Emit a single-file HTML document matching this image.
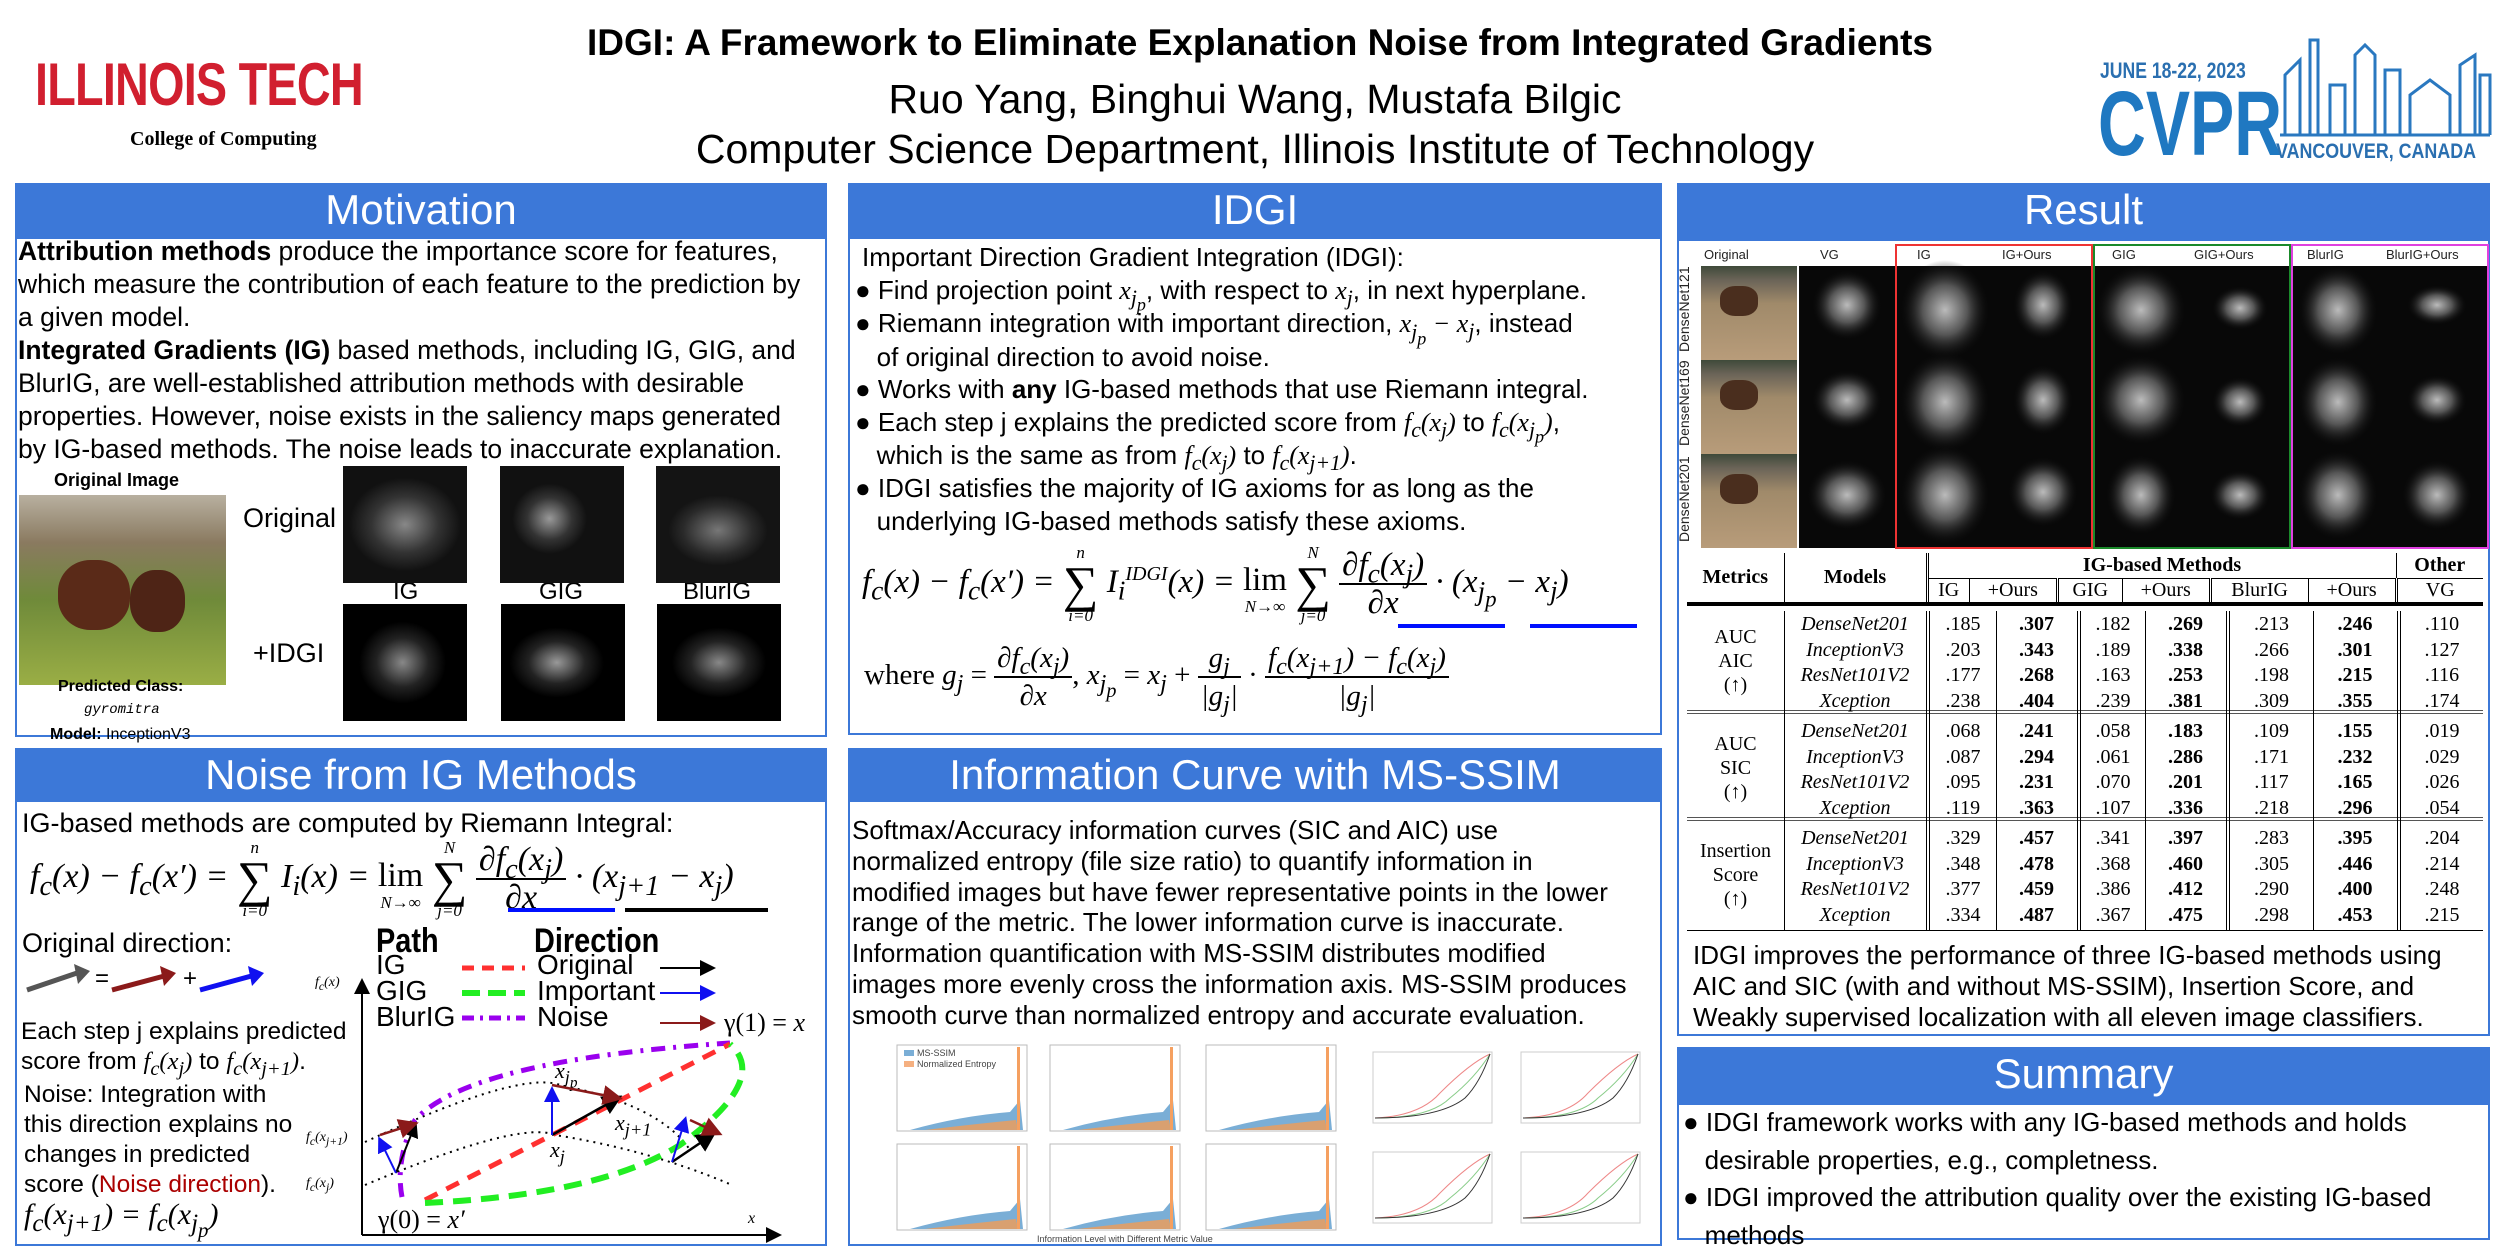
<!DOCTYPE html>
<html><head><meta charset="utf-8">
<style>
*{margin:0;padding:0;box-sizing:border-box}
body{width:2500px;height:1250px;background:#fff;position:relative;overflow:hidden;font-family:"Liberation Sans",sans-serif;color:#000}
.a{position:absolute;white-space:nowrap}
.hd{position:absolute;background:#3c78d8;color:#fff;font-size:42px;text-align:center;line-height:54px}
.bd{position:absolute;border:2px solid #3c78d8;background:#fff}
.m{font-family:"Liberation Serif",serif;font-style:italic}
sub,sup{line-height:0}
.sal{position:absolute;background:#050505}
.img{position:absolute}
.sum{display:inline-block;vertical-align:middle;text-align:center;line-height:1}
.sum .l{display:block;font-size:17px;line-height:19px}
.sum .g{display:block;font-size:50px;font-style:normal;line-height:44px}
.lim{display:inline-block;vertical-align:middle;text-align:center;line-height:1;position:relative;top:6px}
.lim .t1{display:block;font-style:normal}
.lim .l{display:block;font-size:17px;line-height:19px}
.fr{display:inline-block;vertical-align:middle;text-align:center;line-height:36px}
.fr>span{display:block;padding:0 3px}
.fr>span:first-child{border-bottom:2px solid #000}
table{border-collapse:collapse;font-family:"Liberation Serif",serif;font-size:20px}
td,th{text-align:center;padding:0 2px;height:25px}
</style></head><body>

<!-- header -->
<div class="a" style="left:35px;top:50px;font-size:60px;font-weight:bold;color:#d11f2f;transform:scaleX(0.78);transform-origin:left top;letter-spacing:-1px">ILLINOIS TECH</div>
<div class="a" style="left:130px;top:128px;font-family:'Liberation Serif',serif;font-weight:bold;font-size:20px">College of Computing</div>
<div class="a" style="left:0;width:2520px;top:22px;text-align:center;font-size:37px;font-weight:bold">IDGI: A Framework to Eliminate Explanation Noise from Integrated Gradients</div>
<div class="a" style="left:0;width:2510px;top:76px;text-align:center;font-size:41px">Ruo Yang, Binghui Wang, Mustafa Bilgic</div>
<div class="a" style="left:0;width:2510px;top:126px;text-align:center;font-size:41px">Computer Science Department, Illinois Institute of Technology</div>
<div class="a" style="left:2100px;top:58px;font-size:22px;font-weight:bold;color:#2a6fb0;transform:scaleX(0.8);transform-origin:left top">JUNE 18-22, 2023</div>
<div class="a" style="left:2098px;top:78px;font-size:92px;font-weight:bold;color:#1f78c1;transform:scaleX(0.72);transform-origin:left top;line-height:92px">CVPR</div>
<div class="a" style="left:2276px;top:140px;font-size:21px;font-weight:bold;color:#2a6fb0;transform:scaleX(0.85);transform-origin:left top">VANCOUVER, CANADA</div>

<!-- panels -->
<div class="hd" style="left:15px;top:183px;width:812px;height:54px">Motivation</div>
<div class="bd" style="left:15px;top:237px;width:812px;height:500px"></div>
<div class="hd" style="left:15px;top:748px;width:812px;height:52px">Noise from IG Methods</div>
<div class="bd" style="left:15px;top:800px;width:812px;height:446px"></div>
<div class="hd" style="left:848px;top:183px;width:814px;height:54px">IDGI</div>
<div class="bd" style="left:848px;top:237px;width:814px;height:498px"></div>
<div class="hd" style="left:848px;top:748px;width:814px;height:52px">Information Curve with MS-SSIM</div>
<div class="bd" style="left:848px;top:800px;width:814px;height:446px"></div>
<div class="hd" style="left:1677px;top:183px;width:813px;height:56px">Result</div>
<div class="bd" style="left:1677px;top:239px;width:813px;height:797px"></div>
<div class="hd" style="left:1677px;top:1047px;width:813px;height:56px">Summary</div>
<div class="bd" style="left:1677px;top:1103px;width:813px;height:137px"></div>

<!-- Motivation -->
<div class="a" style="left:18px;top:235px;font-size:26.5px;line-height:33px">
<b>Attribution methods</b> produce the importance score for features,<br>which measure the contribution of each feature to the prediction by<br>a given model.<br>
<b>Integrated Gradients (IG)</b> based methods, including IG, GIG, and<br>BlurIG, are well-established attribution methods with desirable<br>properties. However, noise exists in the saliency maps generated<br>by IG-based methods. The noise leads to inaccurate explanation.</div>
<div class="a" style="left:54px;top:470px;font-size:18px;font-weight:bold">Original Image</div>
<div class="img" style="left:19px;top:495px;width:207px;height:190px;background:linear-gradient(180deg,#b8b0a0 0%,#8a7a60 25%,#6f8a3a 55%,#9aae45 100%)"></div>
<div class="img" style="left:58px;top:560px;width:72px;height:70px;border-radius:45%;background:#5a2a18"></div>
<div class="img" style="left:130px;top:570px;width:55px;height:62px;border-radius:45%;background:#4e2416"></div>
<div class="a" style="left:58px;top:678px;font-size:16px;font-weight:bold">Predicted Class:</div>
<div class="a" style="left:84px;top:702px;font-size:14px;font-family:'Liberation Mono',monospace;font-style:italic">gyromitra</div>
<div class="a" style="left:50px;top:726px;font-size:16px"><b>Model:</b> InceptionV3</div>
<div class="a" style="left:243px;top:503px;font-size:27px">Original</div>
<div class="a" style="left:253px;top:638px;font-size:27px">+IDGI</div>
<div class="a" style="left:393px;top:578px;font-size:24px">IG</div>
<div class="a" style="left:539px;top:578px;font-size:24px">GIG</div>
<div class="a" style="left:683px;top:578px;font-size:24px">BlurIG</div>
<div class="sal" style="left:343px;top:466px;width:124px;height:117px;background:radial-gradient(ellipse 45% 40% at 50% 50%,#888,#333 60%,#111)"></div>
<div class="sal" style="left:500px;top:466px;width:124px;height:117px;background:radial-gradient(ellipse 30% 30% at 40% 45%,#999,#333 60%,#111)"></div>
<div class="sal" style="left:656px;top:466px;width:124px;height:117px;background:radial-gradient(ellipse 40% 30% at 50% 55%,#777,#2a2a2a 70%,#141414)"></div>
<div class="sal" style="left:343px;top:604px;width:124px;height:117px;background:radial-gradient(ellipse 35% 35% at 48% 50%,#888,#222 60%,#000)"></div>
<div class="sal" style="left:501px;top:604px;width:124px;height:117px;background:radial-gradient(ellipse 38% 30% at 45% 50%,#999,#222 60%,#000)"></div>
<div class="sal" style="left:657px;top:604px;width:124px;height:117px;background:radial-gradient(ellipse 38% 30% at 50% 50%,#888,#222 60%,#000)"></div>

<!-- Noise -->
<div class="a" style="left:22px;top:808px;font-size:27px">IG-based methods are computed by Riemann Integral:</div>
<div class="a m" style="left:30px;top:830px;font-size:34px;line-height:94px;height:94px">f<sub>c</sub>(x) − f<sub>c</sub>(x′) = <span class="sum"><span class="l">n</span><span class="g">∑</span><span class="l">i=0</span></span> I<sub>i</sub>(x) = <span class="lim"><span class="t1">lim</span><span class="l">N→∞</span></span> <span class="sum"><span class="l">N</span><span class="g">∑</span><span class="l">j=0</span></span> <span class="fr"><span>∂f<sub>c</sub>(x<sub>j</sub>)</span><span>∂x</span></span> · (x<sub>j+1</sub> − x<sub>j</sub>)</div>
<div class="a" style="left:22px;top:928px;font-size:27px">Original direction:</div>
<div class="a" style="left:95px;top:965px;font-size:24px">=</div>
<div class="a" style="left:183px;top:965px;font-size:24px">+</div>
<div class="a" style="left:376px;top:922px;font-size:34px;font-weight:bold;transform:scaleX(.85);transform-origin:left">Path</div>
<div class="a" style="left:534px;top:922px;font-size:34px;font-weight:bold;transform:scaleX(.85);transform-origin:left">Direction</div>
<div class="a" style="left:376px;top:952px;font-size:28px;line-height:26px">IG<br>GIG<br>BlurIG</div>
<div class="a" style="left:537px;top:952px;font-size:28px;line-height:26px">Original<br>Important<br>Noise</div>
<div class="a" style="left:724px;top:1008px;font-size:26px;font-family:'Liberation Serif',serif">γ(1) = <i>x</i></div>
<div class="a" style="left:378px;top:1205px;font-size:26px;font-family:'Liberation Serif',serif">γ(0) = <i>x′</i></div>
<div class="a m" style="left:748px;top:1210px;font-size:16px">x</div>
<div class="a m" style="left:315px;top:975px;font-size:14px">f<sub>c</sub>(x)</div>
<div class="a m" style="left:306px;top:1130px;font-size:14px">f<sub>c</sub>(x<sub>j+1</sub>)</div>
<div class="a m" style="left:306px;top:1176px;font-size:14px">f<sub>c</sub>(x<sub>j</sub>)</div>
<div class="a m" style="left:555px;top:1058px;font-size:22px">x<sub>j<sub>p</sub></sub></div>
<div class="a m" style="left:615px;top:1110px;font-size:22px">x<sub>j+1</sub></div>
<div class="a m" style="left:550px;top:1137px;font-size:22px">x<sub>j</sub></div>
<div class="a" style="left:21px;top:1017px;font-size:24.5px;line-height:30px">Each step j explains predicted<br>score from <span class="m">f<sub>c</sub>(x<sub>j</sub>)</span> to <span class="m">f<sub>c</sub>(x<sub>j+1</sub>)</span>.</div>
<div class="a" style="left:24px;top:1080px;font-size:24.5px;line-height:30px">Noise: Integration with<br>this direction explains no<br>changes in predicted<br>score (<span style="color:#a00">Noise direction</span>).</div>
<div class="a m" style="left:24px;top:1198px;font-size:30px">f<sub>c</sub>(x<sub>j+1</sub>) = f<sub>c</sub>(x<sub>j<sub>p</sub></sub>)</div>

<!-- IDGI -->
<div class="a" style="left:862px;top:242px;font-size:26px">Important Direction Gradient Integration (IDGI):</div>
<div class="a" style="left:855px;top:274px;font-size:26px;line-height:32.4px">
● Find projection point <span class="m">x<sub>j<sub>p</sub></sub></span>, with respect to <span class="m">x<sub>j</sub></span>, in next hyperplane.<br>
● Riemann integration with important direction, <span class="m">x<sub>j<sub>p</sub></sub> − x<sub>j</sub></span>, instead<br>&nbsp;&nbsp;&nbsp;of original direction to avoid noise.<br>
● Works with <b>any</b> IG-based methods that use Riemann integral.<br>
● Each step j explains the predicted score from <span class="m">f<sub>c</sub>(x<sub>j</sub>)</span> to <span class="m">f<sub>c</sub>(x<sub>j<sub>p</sub></sub>)</span>,<br>&nbsp;&nbsp;&nbsp;which is the same as from <span class="m">f<sub>c</sub>(x<sub>j</sub>)</span> to <span class="m">f<sub>c</sub>(x<sub>j+1</sub>)</span>.<br>
● IDGI satisfies the majority of IG axioms for as long as the<br>&nbsp;&nbsp;&nbsp;underlying IG-based methods satisfy these axioms.</div>
<div class="a m" style="left:862px;top:535px;font-size:33px;line-height:94px;height:94px">f<sub>c</sub>(x) − f<sub>c</sub>(x′) = <span class="sum"><span class="l">n</span><span class="g">∑</span><span class="l">i=0</span></span> I<sub>i</sub><sup style="font-size:20px">IDGI</sup>(x) = <span class="lim"><span class="t1">lim</span><span class="l">N→∞</span></span> <span class="sum"><span class="l">N</span><span class="g">∑</span><span class="l">j=0</span></span> <span class="fr"><span>∂f<sub>c</sub>(x<sub>j</sub>)</span><span>∂x</span></span> · (x<sub>j<sub>p</sub></sub> − x<sub>j</sub>)</div>
<div class="a" style="left:864px;top:636px;font-family:'Liberation Serif',serif;font-size:29px;line-height:78px">where <i>g<sub>j</sub></i> = <span class="fr"><span><i>∂f<sub>c</sub>(x<sub>j</sub>)</i></span><span><i>∂x</i></span></span>, <i>x<sub>j<sub>p</sub></sub></i> = <i>x<sub>j</sub></i> + <span class="fr"><span><i>g<sub>j</sub></i></span><span><i>|g<sub>j</sub>|</i></span></span> · <span class="fr"><span><i>f<sub>c</sub>(x<sub>j+1</sub>) − f<sub>c</sub>(x<sub>j</sub>)</i></span><span><i>|g<sub>j</sub>|</i></span></span></div>

<!-- Info curve -->
<div class="a" style="left:852px;top:815px;font-size:26px;line-height:30.8px">Softmax/Accuracy information curves (SIC and AIC) use<br>normalized entropy (file size ratio) to quantify information in<br>modified images but have fewer representative points in the lower<br>range of the metric. The lower information curve is inaccurate.<br>Information quantification with MS-SSIM distributes modified<br>images more evenly cross the information axis. MS-SSIM produces<br>smooth curve than normalized entropy and accurate evaluation.</div>

<!-- Result images -->
<div class="a" style="left:1672px;top:243px;width:820px;font-size:13px;color:#222">
<span class="a" style="left:32px;top:4px">Original</span><span class="a" style="left:148px;top:4px">VG</span><span class="a" style="left:245px;top:4px">IG</span><span class="a" style="left:330px;top:4px">IG+Ours</span><span class="a" style="left:440px;top:4px">GIG</span><span class="a" style="left:522px;top:4px">GIG+Ours</span><span class="a" style="left:635px;top:4px">BlurIG</span><span class="a" style="left:714px;top:4px">BlurIG+Ours</span></div>
<div class="a" style="left:1676px;top:352px;font-size:14px;transform:rotate(-90deg);transform-origin:left top;color:#222">DenseNet121</div>
<div class="a" style="left:1676px;top:446px;font-size:14px;transform:rotate(-90deg);transform-origin:left top;color:#222">DenseNet169</div>
<div class="a" style="left:1676px;top:542px;font-size:14px;transform:rotate(-90deg);transform-origin:left top;color:#222">DenseNet201</div>
<div class="img" style="left:1701px;top:266px;width:96px;height:282px;background:repeating-linear-gradient(180deg,#3f4a3a 0,#6b6458 15%,#a08a6a 40%,#b89c7a 100%);background-size:96px 94px"></div>
<div class="img" style="left:1720px;top:286px;width:38px;height:30px;border-radius:40%;background:#4a2e1e"></div>
<div class="img" style="left:1720px;top:380px;width:38px;height:30px;border-radius:40%;background:#4a2e1e"></div>
<div class="img" style="left:1720px;top:474px;width:38px;height:30px;border-radius:40%;background:#4a2e1e"></div>
<div class="sal" style="left:1799px;top:266px;width:689px;height:282px;background:#080808"></div>

<!-- Table -->
<div class="a" style="left:1687px;top:553px">
<table style="width:796px">
<tr style="border-bottom:1px solid #000"><th style="width:97px;border-right:1px solid #000" rowspan="2">Metrics</th><th style="width:143px;border-right:3px double #000" rowspan="2">Models</th><th colspan="6" style="border-right:1px solid #000;border-bottom:1px solid #000">IG-based Methods</th><th>Other</th></tr>
<tr style="border-bottom:4px solid #000"><td>IG</td><td style="border-left:1px solid #000;border-right:3px double #000">+Ours</td><td>GIG</td><td style="border-left:1px solid #000;border-right:3px double #000">+Ours</td><td>BlurIG</td><td style="border-left:1px solid #000;border-right:3px double #000">+Ours</td><td>VG</td></tr>
</table></div>
<div class="a" style="left:1687px;top:611px;width:796px;height:320px;font-family:'Liberation Serif',serif;font-size:20px;line-height:25.5px;border-bottom:1px solid #000">
<div class="a" style="left:0;top:0;width:796px;height:103px;border-bottom:4px double #555"></div>
<div class="a" style="left:0;top:107px;width:796px;height:103px;border-bottom:4px double #555"></div>
<div class="a" style="left:97px;top:0;height:320px;border-left:1px solid #000"></div>
<div class="a" style="left:239px;top:0;height:320px;border-left:4px double #000"></div>
<div class="a" style="left:309px;top:0;height:320px;border-left:1px solid #000"></div>
<div class="a" style="left:390px;top:0;height:320px;border-left:4px double #000"></div>
<div class="a" style="left:458px;top:0;height:320px;border-left:1px solid #000"></div>
<div class="a" style="left:539px;top:0;height:320px;border-left:4px double #000"></div>
<div class="a" style="left:626px;top:0;height:320px;border-left:1px solid #000"></div>
<div class="a" style="left:710px;top:0;height:320px;border-left:4px double #000"></div>
<div class="a" style="left:0;width:97px;top:14px;text-align:center;line-height:24px">AUC<br>AIC<br>(↑)</div>
<div class="a" style="left:0;width:97px;top:121px;text-align:center;line-height:24px">AUC<br>SIC<br>(↑)</div>
<div class="a" style="left:0;width:97px;top:228px;text-align:center;line-height:24px">Insertion<br>Score<br>(↑)</div>
<div class="a" style="left:97px;width:142px;top:1px;text-align:center;font-style:italic">DenseNet201<br>InceptionV3<br>ResNet101V2<br>Xception</div>
<div class="a" style="left:97px;width:142px;top:108px;text-align:center;font-style:italic">DenseNet201<br>InceptionV3<br>ResNet101V2<br>Xception</div>
<div class="a" style="left:97px;width:142px;top:215px;text-align:center;font-style:italic">DenseNet201<br>InceptionV3<br>ResNet101V2<br>Xception</div>
<div class="a" style="left:243px;width:66px;top:1px;text-align:center">.185<br>.203<br>.177<br>.238</div>
<div class="a" style="left:309px;width:81px;top:1px;text-align:center;font-weight:bold">.307<br>.343<br>.268<br>.404</div>
<div class="a" style="left:394px;width:64px;top:1px;text-align:center">.182<br>.189<br>.163<br>.239</div>
<div class="a" style="left:458px;width:81px;top:1px;text-align:center;font-weight:bold">.269<br>.338<br>.253<br>.381</div>
<div class="a" style="left:543px;width:83px;top:1px;text-align:center">.213<br>.266<br>.198<br>.309</div>
<div class="a" style="left:626px;width:84px;top:1px;text-align:center;font-weight:bold">.246<br>.301<br>.215<br>.355</div>
<div class="a" style="left:714px;width:82px;top:1px;text-align:center">.110<br>.127<br>.116<br>.174</div>
<div class="a" style="left:243px;width:66px;top:108px;text-align:center">.068<br>.087<br>.095<br>.119</div>
<div class="a" style="left:309px;width:81px;top:108px;text-align:center;font-weight:bold">.241<br>.294<br>.231<br>.363</div>
<div class="a" style="left:394px;width:64px;top:108px;text-align:center">.058<br>.061<br>.070<br>.107</div>
<div class="a" style="left:458px;width:81px;top:108px;text-align:center;font-weight:bold">.183<br>.286<br>.201<br>.336</div>
<div class="a" style="left:543px;width:83px;top:108px;text-align:center">.109<br>.171<br>.117<br>.218</div>
<div class="a" style="left:626px;width:84px;top:108px;text-align:center;font-weight:bold">.155<br>.232<br>.165<br>.296</div>
<div class="a" style="left:714px;width:82px;top:108px;text-align:center">.019<br>.029<br>.026<br>.054</div>
<div class="a" style="left:243px;width:66px;top:215px;text-align:center">.329<br>.348<br>.377<br>.334</div>
<div class="a" style="left:309px;width:81px;top:215px;text-align:center;font-weight:bold">.457<br>.478<br>.459<br>.487</div>
<div class="a" style="left:394px;width:64px;top:215px;text-align:center">.341<br>.368<br>.386<br>.367</div>
<div class="a" style="left:458px;width:81px;top:215px;text-align:center;font-weight:bold">.397<br>.460<br>.412<br>.475</div>
<div class="a" style="left:543px;width:83px;top:215px;text-align:center">.283<br>.305<br>.290<br>.298</div>
<div class="a" style="left:626px;width:84px;top:215px;text-align:center;font-weight:bold">.395<br>.446<br>.400<br>.453</div>
<div class="a" style="left:714px;width:82px;top:215px;text-align:center">.204<br>.214<br>.248<br>.215</div>
</div>
<div class="a" style="left:1693px;top:940px;font-size:26px;line-height:31px">IDGI improves the performance of three IG-based methods using<br>AIC and SIC (with and without MS-SSIM), Insertion Score, and<br>Weakly supervised localization with all eleven image classifiers.</div>

<!-- Summary -->
<div class="a" style="left:1683px;top:1104px;font-size:26px;line-height:37.5px">● IDGI framework works with any IG-based methods and holds<br>&nbsp;&nbsp;&nbsp;desirable properties, e.g., completness.<br>● IDGI improved the attribution quality over the existing IG-based<br>&nbsp;&nbsp;&nbsp;methods</div>

<svg class="a" style="left:0;top:0" width="2500" height="1250" viewBox="0 0 2500 1250">
<defs>
<marker id="ak" markerWidth="8" markerHeight="8" refX="6" refY="4" orient="auto"><path d="M0,0 L8,4 L0,8z" fill="#000"/></marker>
<marker id="ab" markerWidth="8" markerHeight="8" refX="6" refY="4" orient="auto"><path d="M0,0 L8,4 L0,8z" fill="#1010f0"/></marker>
<marker id="ar" markerWidth="8" markerHeight="8" refX="6" refY="4" orient="auto"><path d="M0,0 L8,4 L0,8z" fill="#8b1a1a"/></marker>
<radialGradient id="blob"><stop offset="0" stop-color="#bbb"/><stop offset=".5" stop-color="#555"/><stop offset="1" stop-color="#0a0a0a" stop-opacity="0"/></radialGradient>
</defs>
<rect x="1896" y="245" width="196" height="303" fill="none" stroke="#e33" stroke-width="2"/>
<rect x="2094" y="245" width="196" height="303" fill="none" stroke="#1a8a2a" stroke-width="2"/>
<rect x="2292" y="245" width="196" height="303" fill="none" stroke="#e040e0" stroke-width="2"/>
<g fill="url(#blob)">
<ellipse cx="1847" cy="305" rx="35" ry="35"/><ellipse cx="1945" cy="310" rx="45" ry="50"/><ellipse cx="2043" cy="305" rx="30" ry="35"/><ellipse cx="2141" cy="310" rx="45" ry="45"/><ellipse cx="2240" cy="308" rx="28" ry="22"/><ellipse cx="2338" cy="310" rx="40" ry="45"/><ellipse cx="2437" cy="305" rx="30" ry="20"/>
<ellipse cx="1847" cy="400" rx="35" ry="30"/><ellipse cx="1945" cy="402" rx="45" ry="50"/><ellipse cx="2043" cy="400" rx="30" ry="35"/><ellipse cx="2141" cy="400" rx="45" ry="45"/><ellipse cx="2240" cy="402" rx="28" ry="25"/><ellipse cx="2338" cy="402" rx="40" ry="45"/><ellipse cx="2437" cy="400" rx="30" ry="25"/>
<ellipse cx="1847" cy="495" rx="40" ry="35"/><ellipse cx="1945" cy="495" rx="45" ry="50"/><ellipse cx="2043" cy="492" rx="35" ry="35"/><ellipse cx="2141" cy="495" rx="35" ry="40"/><ellipse cx="2240" cy="495" rx="30" ry="25"/><ellipse cx="2338" cy="495" rx="40" ry="45"/><ellipse cx="2437" cy="495" rx="35" ry="35"/>
</g>
<g fill="none" stroke="#2a78c0" stroke-width="3">
<path d="M2285 135 L2285 75 L2300 60 L2300 135 M2310 135 L2310 40 L2318 40 L2318 135 M2330 135 L2330 85 L2345 85 L2345 135 M2355 135 L2355 55 L2365 45 L2375 55 L2375 135 M2385 135 L2385 70 L2400 70 L2400 135 M2410 135 L2410 95 L2430 80 L2450 95 L2450 135 M2460 135 L2460 65 L2475 55 L2475 135 M2480 135 L2480 75 L2490 75 L2490 135 M2280 135 L2490 135"/>
</g>
<line x1="508" y1="910" x2="615" y2="910" stroke="#0010ff" stroke-width="4"/>
<line x1="625" y1="910" x2="768" y2="910" stroke="#000" stroke-width="4"/>
<line x1="1398" y1="626" x2="1505" y2="626" stroke="#0010ff" stroke-width="4"/>
<line x1="1530" y1="626" x2="1637" y2="626" stroke="#0010ff" stroke-width="4"/>
<line x1="27" y1="990" x2="80" y2="972" stroke="#555" stroke-width="5"/>
<line x1="112" y1="990" x2="168" y2="975" stroke="#8b1a1a" stroke-width="5"/>
<line x1="200" y1="990" x2="255" y2="975" stroke="#1010f0" stroke-width="5"/>
<path d="M160 966 L176 973 L164 986z" fill="#8b1a1a"/>
<path d="M248 966 L264 973 L252 986z" fill="#1010f0"/>
<path d="M74 964 L90 971 L78 984z" fill="#555"/>
<line x1="462" y1="968" x2="525" y2="968" stroke="#ff3030" stroke-width="5" stroke-dasharray="12,8"/>
<line x1="462" y1="993" x2="525" y2="993" stroke="#22ee22" stroke-width="6" stroke-dasharray="18,8"/>
<line x1="462" y1="1018" x2="525" y2="1018" stroke="#9a00ee" stroke-width="5" stroke-dasharray="12,6,3,6"/>
<line x1="660" y1="968" x2="712" y2="968" stroke="#000" stroke-width="2" marker-end="url(#ak)"/>
<line x1="660" y1="993" x2="712" y2="993" stroke="#1010f0" stroke-width="2" marker-end="url(#ab)"/>
<line x1="660" y1="1023" x2="712" y2="1023" stroke="#8b1a1a" stroke-width="2" marker-end="url(#ar)"/>
<line x1="362" y1="1235" x2="778" y2="1235" stroke="#000" stroke-width="2" marker-end="url(#ak)"/>
<line x1="362" y1="1235" x2="362" y2="982" stroke="#000" stroke-width="2" marker-end="url(#ak)"/>
<path d="M365 1142 Q520 1070 560 1085 Q660 1105 690 1150" fill="none" stroke="#000" stroke-width="2" stroke-dasharray="2,5"/>
<path d="M365 1185 Q520 1120 555 1135 Q650 1150 732 1185" fill="none" stroke="#000" stroke-width="2" stroke-dasharray="2,5"/>
<path d="M402 1197 Q395 1160 415 1120 Q470 1060 730 1043" fill="none" stroke="#9a00ee" stroke-width="5" stroke-dasharray="14,8,3,8"/>
<path d="M425 1200 L730 1044" fill="none" stroke="#ff3030" stroke-width="5" stroke-dasharray="14,10"/>
<path d="M425 1203 Q600 1195 680 1145 Q770 1080 730 1044" fill="none" stroke="#22ee22" stroke-width="6" stroke-dasharray="18,10"/>
<line x1="552" y1="1135" x2="618" y2="1098" stroke="#000" stroke-width="2.5" marker-end="url(#ak)"/>
<line x1="552" y1="1135" x2="552" y2="1090" stroke="#1010f0" stroke-width="2" marker-end="url(#ab)"/>
<line x1="552" y1="1085" x2="618" y2="1098" stroke="#8b1a1a" stroke-width="2.5" marker-end="url(#ar)"/>
<line x1="396" y1="1173" x2="415" y2="1125" stroke="#000" stroke-width="2" marker-end="url(#ak)"/>
<line x1="396" y1="1173" x2="380" y2="1140" stroke="#1010f0" stroke-width="2" marker-end="url(#ab)"/>
<line x1="380" y1="1135" x2="414" y2="1124" stroke="#8b1a1a" stroke-width="2.5" marker-end="url(#ar)"/>
<line x1="672" y1="1162" x2="712" y2="1135" stroke="#000" stroke-width="2.5" marker-end="url(#ak)"/>
<line x1="672" y1="1162" x2="685" y2="1120" stroke="#1010f0" stroke-width="2" marker-end="url(#ab)"/>
<line x1="690" y1="1120" x2="718" y2="1133" stroke="#8b1a1a" stroke-width="2.5" marker-end="url(#ar)"/>

<g font-family="Liberation Sans" font-size="9" fill="#444">
<g id="h1">
<rect x="897" y="1045" width="130" height="86" fill="#fff" stroke="#bbb"/>
<path d="M910 1130 Q960 1116 1010 1112 L1020 1100 L1023 1130z" fill="#7aaed6"/>
<path d="M925 1130 Q975 1124 1016 1120 L1018 1130z" fill="#d9a070"/>
<rect x="1017" y="1047" width="3" height="83" fill="#f5a060"/>
</g>
<use href="#h1" x="153"/><use href="#h1" x="309"/>
<use href="#h1" y="99"/><use href="#h1" x="153" y="99"/><use href="#h1" x="309" y="99"/>
<text x="1037" y="1242">Information Level with Different Metric Value</text>
<rect x="904" y="1050" width="10" height="6" fill="#7aaed6"/><text x="917" y="1056">MS-SSIM</text>
<rect x="904" y="1061" width="10" height="6" fill="#f5b080"/><text x="917" y="1067">Normalized Entropy</text>
<g id="c1">
<rect x="1373" y="1052" width="119" height="71" fill="#fff" stroke="#ccc"/>
<path d="M1375 1118 Q1420 1116 1440 1093 Q1470 1063 1490 1054" fill="none" stroke="#e88" stroke-width="1"/>
<path d="M1375 1118 Q1430 1118 1450 1098 Q1475 1078 1490 1054" fill="none" stroke="#8c8" stroke-width="1"/>
<path d="M1375 1118 Q1440 1118 1465 1098 Q1480 1083 1490 1054" fill="none" stroke="#333" stroke-width="1"/>
</g>
<use href="#c1" x="148"/><use href="#c1" y="100"/><use href="#c1" x="148" y="100"/>
</g>
</svg>
</body></html>
